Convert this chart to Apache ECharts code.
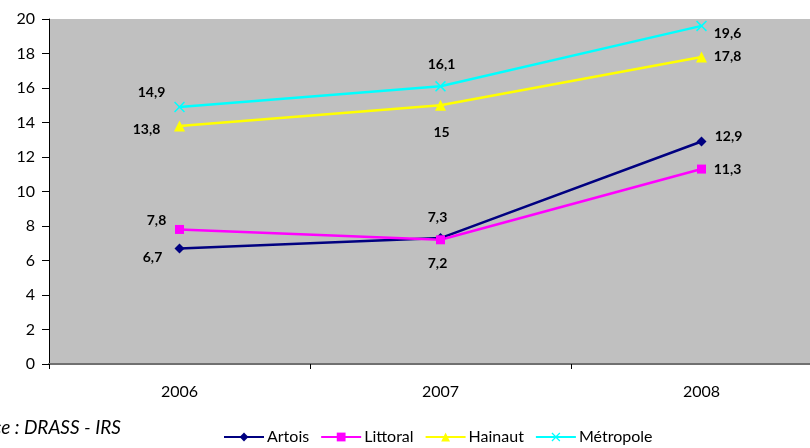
<!DOCTYPE html>
<html><head><meta charset="utf-8">
<script src="https://cdn.jsdelivr.net/npm/echarts@6/dist/echarts.min.js"></script>
<style>html,body{margin:0;padding:0;background:#fff}#c{width:810px;height:448px}</style>
</head><body><div id="c"></div>
<script>
const categories = ['2006', '2007', '2008'];
const artois = [6.7, 7.3, 12.9];
const littoral = [7.8, 7.2, 11.3];
const hainaut = [13.8, 15, 17.8];
const metropole = [14.9, 16.1, 19.6];
const yTicks = [0, 2, 4, 6, 8, 10, 12, 14, 16, 18, 20];

// label offsets (layout only)
const offArtois = [[-27, 9], [-3, -21], [27, -5]];
const offLittoral = [[-23, -9], [-3, 24], [26, 0]];
const offHainaut = [[-33, 4], [1, 27], [26, 0]];
const offMetro = [[-28, -14], [1, -22], [26, 8]];

const fontFam = 'Lato, "Open Sans", sans-serif';
const crossPath = 'path://M0,1 L1,0 L5,4 L9,0 L10,1 L6,5 L10,9 L9,10 L5,6 L1,10 L0,9 L4,5 Z';

function mk(name, values, color, symbol, size, offs) {
  return {
    name, type: 'line', data: values.map((v, i) => ({
      value: v,
      label: { offset: offs[i] }
    })),
    symbol, symbolSize: size,
    lineStyle: { color, width: 2.5 },
    itemStyle: { color },
    label: {
      show: true, position: 'inside', color: '#000',
      fontFamily: fontFam, fontWeight: 'bold', fontSize: 14,
      formatter: p => String(p.value).replace('.', ',')
    },
    emphasis: { disabled: true },
    animation: false
  };
}

const chart = echarts.init(document.getElementById('c'));
chart.setOption({
  animation: false,
  grid: { left: 49, width: 783, top: 19, bottom: 84, backgroundColor: '#C0C0C0', show: true, borderWidth: 0, outerBoundsMode: 'none', containLabel: false },
  xAxis: {
    type: 'category', data: categories, boundaryGap: true,
    axisLine: { lineStyle: { color: '#707070', width: 2 } },
    axisTick: { show: true, length: 5, lineStyle: { color: '#000', width: 1 } },
    axisLabel: { color: '#000', fontFamily: fontFam, fontSize: 16, margin: 20 },
    splitLine: { show: false }
  },
  yAxis: {
    type: 'value', min: yTicks[0], max: yTicks[yTicks.length - 1], interval: 2,
    axisLine: { show: true, lineStyle: { color: '#000', width: 1 } },
    axisTick: { show: true, length: 7, lineStyle: { color: '#000' } },
    axisLabel: { color: '#000', fontFamily: fontFam, fontSize: 16, margin: 14 },
    splitLine: { show: false }
  },
  legend: {
    bottom: -2, left: 218,
    itemWidth: 40, itemHeight: 11, itemGap: 11,
    textStyle: { color: '#000', fontFamily: fontFam, fontSize: 16, padding: [0, 0, 0, -2] },
    data: ['Artois', 'Littoral', 'Hainaut', 'Métropole']
  },
  graphic: [{
    type: 'text', right: 689, top: 418,
    style: { text: 'Source : DRASS - IRS', fontFamily: fontFam, fontStyle: 'italic', fontSize: 19, fill: '#000' }
  }],
  series: [
    mk('Artois', artois, '#000080', 'diamond', 10, offArtois),
    mk('Littoral', littoral, '#FF00FF', 'rect', 9, offLittoral),
    mk('Hainaut', hainaut, '#FFFF00', 'triangle', 11, offHainaut),
    mk('Métropole', metropole, '#00FFFF', crossPath, 11, offMetro)
  ]
});
</script></body></html>
